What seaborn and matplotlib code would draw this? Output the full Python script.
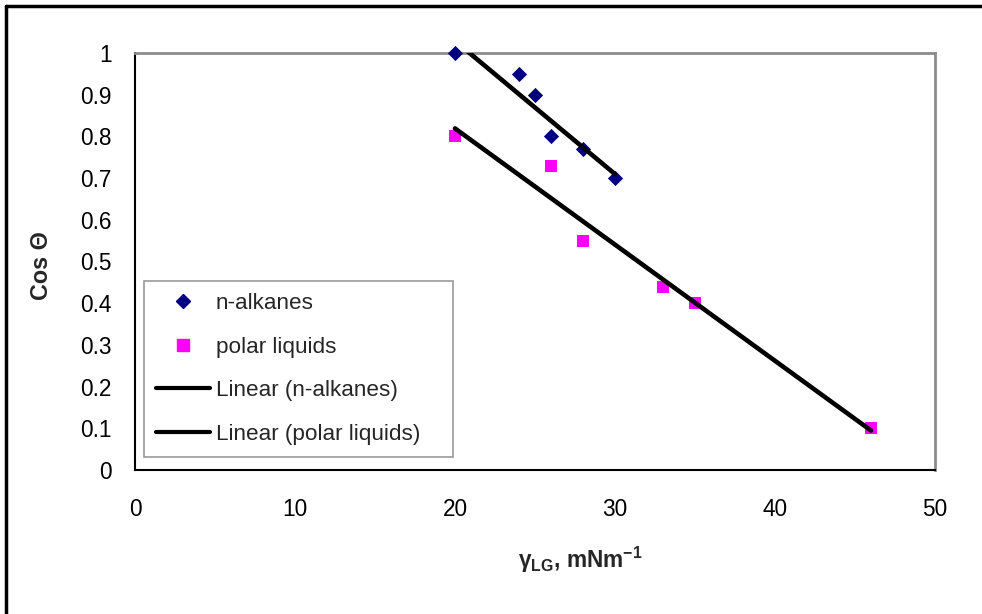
import numpy as np
import pandas as pd
import matplotlib
matplotlib.use("Agg")
import matplotlib.pyplot as plt
import seaborn as sns
from matplotlib.lines import Line2D

# ---- data ----
alk_x = [20, 24, 25, 26, 28, 30]
alk_y = [1.00, 0.95, 0.90, 0.80, 0.77, 0.70]
pol_x = [20, 26, 28, 33, 35, 46]
pol_y = [0.80, 0.73, 0.55, 0.44, 0.40, 0.10]
series_names = ["n-alkanes", "polar liquids"]
x_ticks = [0, 10, 20, 30, 40, 50]
y_ticks = [0, 0.1, 0.2, 0.3, 0.4, 0.5, 0.6, 0.7, 0.8, 0.9, 1.0]

sns.set_style("white")
plt.rcParams['font.family'] = ['Liberation Sans', 'DejaVu Sans']
plt.rcParams['mathtext.fontset'] = 'custom'
plt.rcParams['mathtext.rm'] = 'Liberation Sans'
plt.rcParams['mathtext.bf'] = 'Liberation Sans:bold'
plt.rcParams['mathtext.it'] = 'Liberation Sans:italic'

FS = 16.3
LFS = 16.2
fig = plt.figure(figsize=(9.82, 6.14), dpi=100)
ax = fig.add_axes([135/982, 144/614, 800/982, 417/614])

df_a = pd.DataFrame({"x": alk_x, "y": alk_y})
df_p = pd.DataFrame({"x": pol_x, "y": pol_y})

sns.scatterplot(data=df_a, x="x", y="y", marker="D", s=60, color="#000080",
                edgecolor="#000080", linewidth=0, ax=ax, clip_on=False, zorder=3)
sns.scatterplot(data=df_p, x="x", y="y", marker="s", s=85, color="#FF00FF",
                edgecolor="#FF00FF", linewidth=0, ax=ax, clip_on=False, zorder=3)

sns.regplot(data=df_a, x="x", y="y", scatter=False, ci=None, truncate=True, ax=ax,
            line_kws=dict(color="black", lw=3.3, zorder=4, solid_capstyle="round"))
sns.regplot(data=df_p, x="x", y="y", scatter=False, ci=None, truncate=True, ax=ax,
            line_kws=dict(color="black", lw=3.3, zorder=4, solid_capstyle="round"))

ax.set_xlim(0, 50)
ax.set_ylim(0, 1)
ax.set_xticks(x_ticks)
ax.set_yticks(y_ticks)
ax.set_xticklabels([str(v) for v in x_ticks])
ax.set_yticklabels(["0" if v == 0 else ("1" if v == 1 else f"{v:g}") for v in y_ticks])
ax.tick_params(axis='both', direction='out', length=6, width=1, color='#606060',
               labelsize=FS, labelcolor='black')
ax.tick_params(axis='x', pad=14)
ax.tick_params(axis='y', pad=11)

for s in ['top', 'right']:
    ax.spines[s].set_color('#8c8c8c')
    ax.spines[s].set_linewidth(2)
for s in ['left', 'bottom']:
    ax.spines[s].set_color('black')
    ax.spines[s].set_linewidth(1.5)
ax.spines['top'].set_visible(True)
ax.spines['right'].set_visible(True)

ax.set_xlabel(r"γ$_{\mathbf{LG}}$, mNm$^{\mathbf{-1}}$",
              fontsize=FS, fontweight='bold')
ax.xaxis.set_label_coords(0.556, -0.18)
ax.set_ylabel("Cos Θ", fontsize=FS + 0.5, fontweight='bold')
ax.yaxis.set_label_coords(-0.1025, 0.49)

handles = [
    Line2D([], [], ls='none', marker='D', ms=7.5, color='#000080', mec='#000080'),
    Line2D([], [], ls='none', marker='s', ms=9, color='#FF00FF', mec='#FF00FF'),
    Line2D([], [], color='black', lw=3),
    Line2D([], [], color='black', lw=3),
]
labels = ["n-alkanes", "polar liquids", "Linear (n-alkanes)", "Linear (polar liquids)"]
leg = ax.legend(handles, labels, loc='lower left',
                bbox_to_anchor=(0.011, 0.031, 0.3863, 0.43), mode='expand',
                fontsize=LFS, frameon=True, fancybox=False, shadow=False,
                labelspacing=1.0, handlelength=2.4, handletextpad=0.25,
                borderpad=0.55, borderaxespad=0)
leg.get_frame().set_edgecolor('#808080')
leg.get_frame().set_linewidth(1.2)

# outer chart frame (left and top visible)
fig.add_artist(Line2D([6/982, 6/982], [0, 1 - 6/614], color='black', lw=2.5,
                      transform=fig.transFigure))
fig.add_artist(Line2D([6/982, 1], [1 - 6/614, 1 - 6/614], color='black', lw=2.5,
                      transform=fig.transFigure))

fig.savefig("out.png", dpi=100)
